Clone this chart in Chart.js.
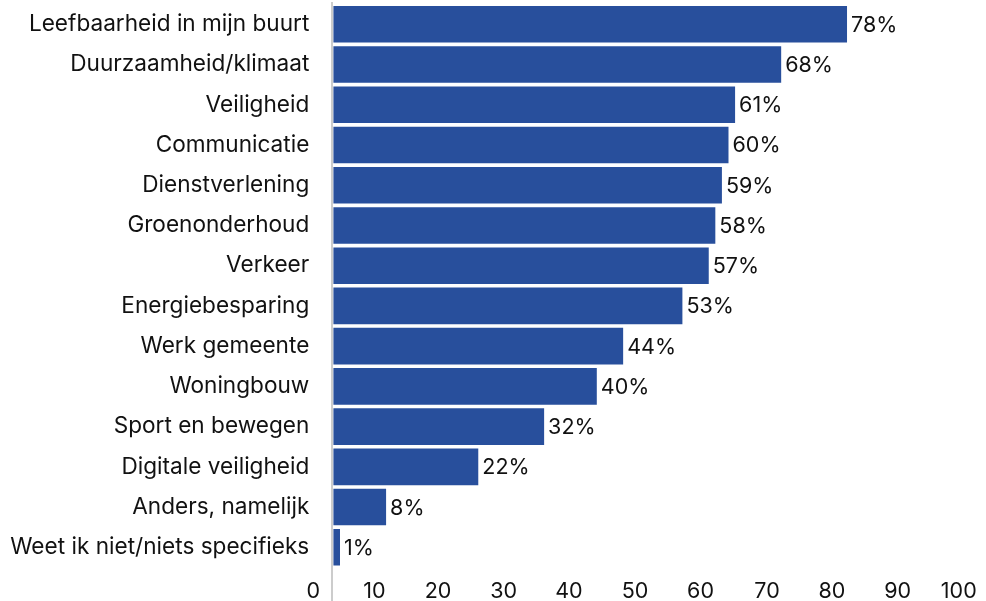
<!DOCTYPE html>
<html>
<head>
<meta charset="utf-8">
<script src="https://cdn.jsdelivr.net/npm/chart.js@4"></script>
<style>
  html, body { margin: 0; padding: 0; background: #fff; }
  #wrap { width: 986px; height: 601px; }
</style>
</head>
<body>
<div id="wrap"><canvas id="chart"></canvas></div>
<script>
// Data
const categories = [
  'Leefbaarheid in mijn buurt',
  'Duurzaamheid/klimaat',
  'Veiligheid',
  'Communicatie',
  'Dienstverlening',
  'Groenonderhoud',
  'Verkeer',
  'Energiebesparing',
  'Werk gemeente',
  'Woningbouw',
  'Sport en bewegen',
  'Digitale veiligheid',
  'Anders, namelijk',
  'Weet ik niet/niets specifieks'
];
const percentages = [78, 68, 61, 60, 59, 58, 57, 53, 44, 40, 32, 22, 8, 1];
const axisTicks = [0, 10, 20, 30, 40, 50, 60, 70, 80, 90, 100];

const FONT = 'Inter, "Noto Sans", sans-serif';
const TEXT_COLOR = '#111111';
const BAR_COLOR = '#284f9c';

// vertical axis line + value labels next to each bar
const barExtras = {
  id: 'barExtras',
  beforeDatasetsDraw(chart) {
    const ctx = chart.ctx;
    const x0 = Math.round(chart.scales.x.getPixelForValue(0));
    ctx.save();
    ctx.fillStyle = '#cccccc';
    ctx.fillRect(x0 - 2, 2, 2, chart.height - 2);
    ctx.restore();
  },
  afterDatasetsDraw(chart) {
    const ctx = chart.ctx;
    const meta = chart.getDatasetMeta(0);
    ctx.save();
    ctx.font = '21.5px ' + FONT;
    ctx.fillStyle = TEXT_COLOR;
    ctx.textBaseline = 'middle';
    ctx.textAlign = 'left';
    meta.data.forEach((bar, i) => {
      ctx.fillText(percentages[i] + '%', bar.x + 4, bar.y + 1);
    });
    ctx.restore();
  }
};

const ctx = document.getElementById('chart').getContext('2d');
new Chart(ctx, {
  type: 'bar',
  data: {
    labels: categories,
    datasets: [{
      data: percentages,
      xAxisID: 'x',
      backgroundColor: BAR_COLOR,
      barPercentage: 1,
      categoryPercentage: 0.91
    }]
  },
  options: {
    indexAxis: 'y',
    responsive: true,
    maintainAspectRatio: false,
    animation: false,
    layout: { padding: { top: 4.2, right: 0, bottom: 0, left: 0 } },
    plugins: {
      legend: { display: false },
      tooltip: { enabled: false }
    },
    scales: {
      // scale the bars are drawn on
      x: {
        type: 'linear',
        display: false,
        min: -1.08,
        max: 98.65
      },
      // scale that only carries the tick labels
      xt: {
        type: 'linear',
        position: 'bottom',
        min: 0,
        max: 100,
        grid: { display: false, drawTicks: false },
        border: { display: false },
        afterBuildTicks: scale => {
          scale.ticks = axisTicks.map(v => ({ value: v }));
        },
        afterFit: scale => { scale.height = 33.6; },
        ticks: {
          align: 'end',
          labelOffset: -6.3,
          padding: 3,
          color: TEXT_COLOR,
          font: { family: FONT, size: 21.5, lineHeight: 2 }
        }
      },
      y: {
        grid: { display: false, drawTicks: false },
        border: { display: false },
        afterFit: scale => {
          scale.width = 326.3;
          scale.paddingTop = 0;
          scale.paddingBottom = 0;
        },
        ticks: {
          padding: 17,
          color: TEXT_COLOR,
          font: { family: FONT, size: 22.6 }
        }
      }
    }
  },
  plugins: [barExtras]
});
</script>
</body>
</html>
